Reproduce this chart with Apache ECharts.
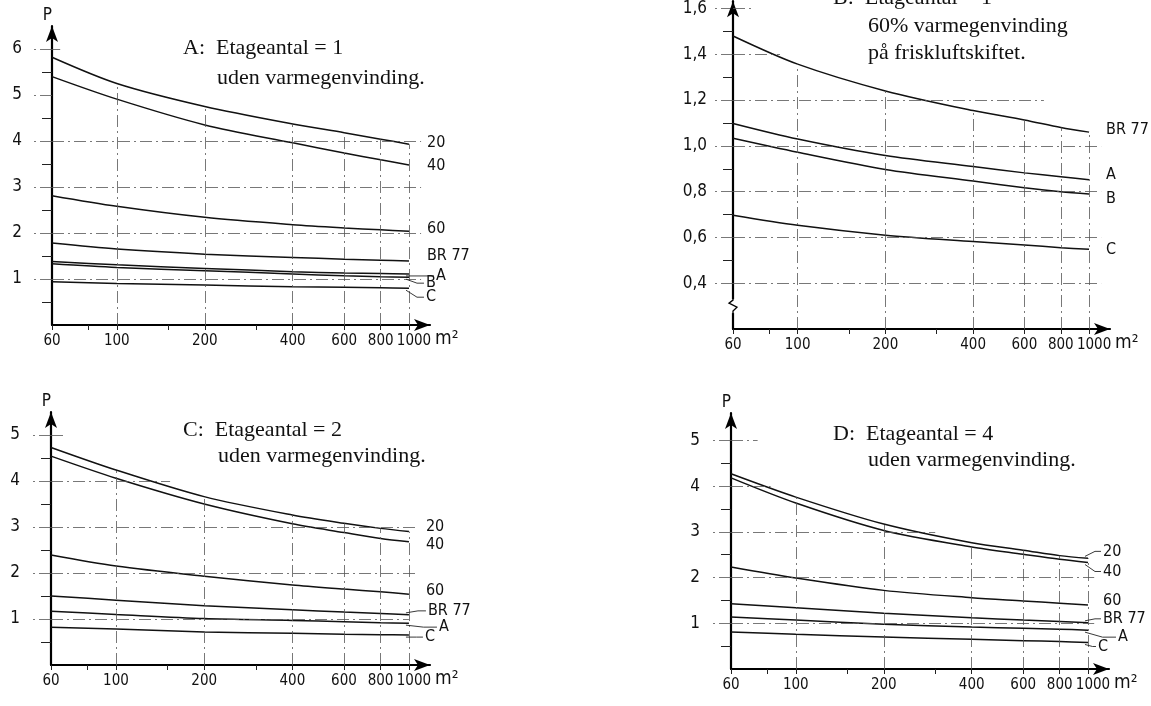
<!DOCTYPE html>
<html>
<head>
<meta charset="utf-8">
<title>Etageantal</title>
<script src="https://cdn.jsdelivr.net/npm/echarts@6.0.0/dist/echarts.min.js"></script>
<style>
html, body { margin: 0; padding: 0; background: #fff; }
#chart { width: 1151px; height: 706px; }
</style>
</head>
<body>
<div id="chart"></div>
<script>
// x: floor area (m2), same points for every curve
var areas = [60, 100, 200, 400, 600, 800, 1000];
// tick labels are split over two stacked axes so close labels are not dropped
var xLabelsMain = [60, 200, 600, 1000];
var xLabelsAlt = [100, 400, 800];
var xTickValues = [60, 80, 100, 150, 200, 300, 400, 600, 800, 1000];
var xGridValues = [100, 200, 400, 600, 800, 1000];

// A: Etageantal = 1, uden varmegenvinding
var aNames = ['20', '40', '60', 'BR 77', 'A', 'B', 'C'];
var a20 = [5.82, 5.25, 4.75, 4.37, 4.18, 4.04, 3.93];
var a40 = [5.40, 4.91, 4.35, 3.96, 3.74, 3.59, 3.48];
var a60 = [2.81, 2.58, 2.34, 2.18, 2.11, 2.07, 2.04];
var aBR = [1.78, 1.65, 1.54, 1.47, 1.43, 1.41, 1.39];
var aA = [1.38, 1.31, 1.23, 1.16, 1.13, 1.12, 1.11];
var aB = [1.33, 1.25, 1.18, 1.11, 1.07, 1.05, 1.04];
var aC = [0.94, 0.90, 0.87, 0.83, 0.82, 0.81, 0.80];
var aYLabels = [1, 2, 3, 4, 5, 6];
var aYTicks = [0.5, 1.5, 2.5, 3.5, 4.5, 5.5];

// B: Etageantal = 1, 60% varmegenvinding
var bNames = ['BR 77', 'A', 'B', 'C'];
var bBR = [1.48, 1.357, 1.24, 1.154, 1.113, 1.08, 1.06];
var bA = [1.098, 1.03, 0.958, 0.91, 0.882, 0.865, 0.852];
var bB = [1.033, 0.972, 0.897, 0.846, 0.817, 0.80, 0.79];
var bC = [0.697, 0.653, 0.61, 0.582, 0.567, 0.555, 0.548];
var bYLabels = [0.4, 0.6, 0.8, 1.0, 1.2, 1.4, 1.6];
var bYTicks = [0.5, 0.7, 0.9, 1.1, 1.3, 1.5];

// C: Etageantal = 2
var cNames = ['20', '40', '60', 'BR 77', 'A', 'C'];
var c20 = [4.73, 4.24, 3.66, 3.26, 3.08, 2.97, 2.90];
var c40 = [4.54, 4.06, 3.50, 3.07, 2.88, 2.75, 2.68];
var c60 = [2.39, 2.15, 1.93, 1.74, 1.65, 1.59, 1.54];
var cBR = [1.50, 1.41, 1.29, 1.20, 1.15, 1.12, 1.09];
var cA = [1.17, 1.10, 1.01, 0.97, 0.94, 0.92, 0.91];
var cC = [0.82, 0.78, 0.72, 0.69, 0.67, 0.66, 0.65];
var cYLabels = [1, 2, 3, 4, 5];
var cYTicks = [0.5, 1.5, 2.5, 3.5, 4.5];

// D: Etageantal = 4
var dNames = ['20', '40', '60', 'BR 77', 'A', 'C'];
var d20 = [4.27, 3.76, 3.17, 2.76, 2.60, 2.48, 2.42];
var d40 = [4.18, 3.63, 3.03, 2.67, 2.51, 2.40, 2.33];
var d60 = [2.23, 1.99, 1.72, 1.56, 1.49, 1.44, 1.40];
var dBR = [1.43, 1.34, 1.22, 1.12, 1.07, 1.04, 1.01];
var dA = [1.14, 1.07, 0.98, 0.92, 0.89, 0.87, 0.85];
var dC = [0.81, 0.76, 0.70, 0.65, 0.62, 0.60, 0.58];
var dYLabels = [1, 2, 3, 4, 5];
var dYTicks = [0.5, 1.5, 2.5, 3.5, 4.5];

var labelFont = "'DejaVu Sans Condensed', 'Liberation Sans', sans-serif";
var titleFont = "'Liberation Serif', 'DejaVu Serif', serif";
var ink = '#111';

// styling: end label offsets, how far each horizontal grid line runs, leaders
var aOffsets = [[10, -1], [10, 1], [10, -2], [10, -5], [19, 2], [9, 6], [9, 9]];
var bOffsets = [[9, -2], [9, -5], [9, 5], [9, 1]];
var cOffsets = [[9, -5], [9, 3], [9, -3], [11, -4], [22, 4], [8, 2]];
var dOffsets = [[7, -7], [7, 9], [7, -4], [7, -4], [22, 7], [2, 4]];
var aGridEnds = [1100, 1100, 1100, 1100, 60, 64];
var bGridEnds = [1100, 1100, 1100, 1100, 700, 87, 71];
var cGridEnds = [1000, 1050, 1050, 153, 68];
var dGridEnds = [1050, 1050, 300, 82, 74];
var aLeaders = [4, 5, 6];
var cLeaders = [3, 4, 5];
var dLeaders = [0, 1, 3, 4, 5];

function pairs(ys) {
	var out = [];
	for (var i = 0; i < areas.length; i++) {
		out.push([areas[i], ys[i]]);
	}
	return out;
}

var xLabelStyle = {
	formatter: function (v) {
		var t = String(Math.round(v));
		return t === '1000' ? '{r|' + t + '}' : t;
	},
	rich: { r: { padding: [0, 0, 0, 10], fontFamily: labelFont, fontSize: 15, color: ink } },
	margin: 9, color: ink, fontFamily: labelFont, fontSize: 15
};
var gridLineStyle = { color: '#555', width: 0.8, type: [12, 4, 2, 4] };

function makeXAxis(gridIndex) {
	return {
		type: 'log', gridIndex: gridIndex, min: 60, max: 1180, logBase: 10,
		axisLine: { onZero: false, lineStyle: { color: '#000', width: 2.2 }, symbol: ['none', 'arrow'], symbolSize: [9, 16] },
		axisTick: { show: true, customValues: xTickValues, length: 5, inside: false, lineStyle: { color: '#222', width: 1 } },
		axisLabel: echarts.util.extend({ customValues: xLabelsMain }, xLabelStyle),
		splitLine: { show: false },
		minorTick: { show: false },
		name: 'm²', nameLocation: 'end', nameGap: -4,
		nameTextStyle: { color: ink, fontFamily: labelFont, fontSize: 19, verticalAlign: 'top', padding: [5, 0, 0, 0] }
	};
}

function makeAltXAxis(gridIndex) {
	return {
		type: 'log', gridIndex: gridIndex, min: 60, max: 1180, logBase: 10, position: 'bottom',
		axisLine: { show: false }, axisTick: { show: false }, splitLine: { show: false },
		axisLabel: echarts.util.extend({ customValues: xLabelsAlt }, xLabelStyle)
	};
}

function makeYAxis(gridIndex, min, max, labels, ticks, margin, showName, fmt) {
	return {
		type: 'value', gridIndex: gridIndex, min: min, max: max,
		axisLine: { lineStyle: { color: '#000', width: 2.2 }, symbol: ['none', 'arrow'], symbolSize: [9, 16] },
		axisTick: { show: true, customValues: ticks, length: 10, lineStyle: { color: '#222', width: 1 } },
		axisLabel: { customValues: labels, margin: margin, color: ink, fontFamily: labelFont, fontSize: 17,
			formatter: fmt || function (v) { return String(v); } },
		splitLine: { show: false },
		name: showName ? 'P' : '', nameLocation: 'end', nameGap: 2,
		nameTextStyle: { color: ink, fontFamily: labelFont, fontSize: 17, align: 'right' }
	};
}

// second y axis on the same grid: only the dash-dot stubs left of the axis line
function makeAltYAxis(gridIndex, min, max, labels) {
	return {
		type: 'value', gridIndex: gridIndex, min: min, max: max, position: 'left',
		axisLine: { show: false }, axisLabel: { show: false }, splitLine: { show: false },
		axisTick: { show: true, customValues: labels, length: 21, lineStyle: gridLineStyle }
	};
}

function gridLines(yMin, yValues, yEnds, top) {
	var data = [];
	yValues.forEach(function (v, i) {
		if (yEnds[i] > 60) {
			data.push([{ coord: [60, v] }, { coord: [yEnds[i], v] }]);
		}
	});
	xGridValues.forEach(function (v) {
		var k = areas.indexOf(v);
		data.push([{ coord: [v, yMin] }, { coord: [v, top[k]] }]);
	});
	return {
		silent: true, symbol: ['none', 'none'], animation: false,
		label: { show: false },
		lineStyle: gridLineStyle,
		data: data
	};
}

function makeSeries(g, names, lists, offsets, yMin, yGrid, yEnds) {
	return names.map(function (n, i) {
		var s = {
			type: 'line', name: n, xAxisIndex: g * 2, yAxisIndex: g * 2,
			data: pairs(lists[i]), showSymbol: false, smooth: 0.3,
			lineStyle: { color: ink, width: 1.5 },
			endLabel: { show: true, formatter: n, offset: offsets[i], color: ink,
				fontFamily: labelFont, fontSize: 16 },
			emphasis: { disabled: true }
		};
		if (i === 0) {
			s.markLine = gridLines(yMin, yGrid, yEnds, lists[0]);
		}
		return s;
	});
}

function titleLine(text, left, top) {
	return { text: text, left: left, top: top, padding: 0,
		textStyle: { fontFamily: titleFont, fontSize: 22, fontWeight: 'normal', color: ink } };
}

var commaFmt = function (v) { return v.toFixed(1).replace('.', ','); };

var chart = echarts.init(document.getElementById('chart'), null, { renderer: 'canvas', width: 1151, height: 706 });

var option = {
	animation: false,
	backgroundColor: '#fff',
	title: [
		titleLine('A:  Etageantal = 1', 183, 37),
		titleLine('uden varmegenvinding.', 217, 67),
		titleLine('B:  Etageantal = 1', 833, -13),
		titleLine('60% varmegenvinding', 868, 15),
		titleLine('på friskluftskiftet.', 868, 42),
		titleLine('C:  Etageantal = 2', 183, 419),
		titleLine('uden varmegenvinding.', 218, 445),
		titleLine('D:  Etageantal = 4', 833, 423),
		titleLine('uden varmegenvinding.', 868, 449)
	],
	grid: [
		{ left: 52, right: 721, top: 26, bottom: 381 },
		{ left: 733, right: 41, top: 0, bottom: 377 },
		{ left: 51, right: 721, top: 412, bottom: 41 },
		{ left: 731, right: 42, top: 413, bottom: 37 }
	],
	xAxis: [
		makeXAxis(0), makeAltXAxis(0),
		makeXAxis(1), makeAltXAxis(1),
		makeXAxis(2), makeAltXAxis(2),
		makeXAxis(3), makeAltXAxis(3)
	],
	yAxis: [
		makeYAxis(0, 0, 6.5, aYLabels, aYTicks, 30, true), makeAltYAxis(0, 0, 6.5, aYLabels),
		makeYAxis(1, 0.2, 1.632, bYLabels, bYTicks, 26, false, commaFmt), makeAltYAxis(1, 0.2, 1.632, bYLabels),
		makeYAxis(2, 0, 5.5, cYLabels, cYTicks, 31, true), makeAltYAxis(2, 0, 5.5, cYLabels),
		makeYAxis(3, 0, 5.6, dYLabels, dYTicks, 31, true), makeAltYAxis(3, 0, 5.6, dYLabels)
	],
	series: [].concat(
		makeSeries(0, aNames, [a20, a40, a60, aBR, aA, aB, aC], aOffsets, 0, aYLabels, aGridEnds),
		makeSeries(1, bNames, [bBR, bA, bB, bC], bOffsets, 0.2, bYLabels, bGridEnds),
		makeSeries(2, cNames, [c20, c40, c60, cBR, cA, cC], cOffsets, 0, cYLabels, cGridEnds),
		makeSeries(3, dNames, [d20, d40, d60, dBR, dA, dC], dOffsets, 0, dYLabels, dGridEnds)
	)
};

chart.setOption(option);

// decorations: axis break on panel B, leader lines from labels to curves
var graphics = [];
var brk = chart.convertToPixel({ xAxisIndex: 2, yAxisIndex: 2 }, [60, 0.3]);
graphics.push({ type: 'rect', shape: { x: brk[0] - 3, y: brk[1] - 7, width: 6, height: 14 }, style: { fill: '#fff' }, z: 100 });
graphics.push({ type: 'polyline', z: 101,
	shape: { points: [[brk[0], brk[1] + 8], [brk[0], brk[1] + 5], [brk[0] + 4, brk[1] + 1], [brk[0] - 4, brk[1] - 3], [brk[0], brk[1] - 6], [brk[0], brk[1] - 8]] },
	style: { stroke: '#000', lineWidth: 1.3, fill: null } });

function addLeaders(g, lists, offsets, which) {
	which.forEach(function (i) {
		var ys = lists[i];
		var end = chart.convertToPixel({ xAxisIndex: g * 2, yAxisIndex: g * 2 }, [areas[areas.length - 1], ys[ys.length - 1]]);
		var lx = end[0] + 8 + offsets[i][0] - 2;
		var ly = end[1] + offsets[i][1];
		var tx = end[0] - 3, ty = end[1] + (ly > end[1] ? 2 : -2);
		graphics.push({ type: 'polyline', z: 50,
			shape: { points: [[lx, ly], [(lx + tx) / 2 + 2, ly], [tx, ty]] },
			style: { stroke: '#222', lineWidth: 0.9, fill: null } });
	});
}
addLeaders(0, [a20, a40, a60, aBR, aA, aB, aC], aOffsets, aLeaders);
addLeaders(2, [c20, c40, c60, cBR, cA, cC], cOffsets, cLeaders);
addLeaders(3, [d20, d40, d60, dBR, dA, dC], dOffsets, dLeaders);

chart.setOption({ graphic: graphics });
</script>
</body>
</html>
